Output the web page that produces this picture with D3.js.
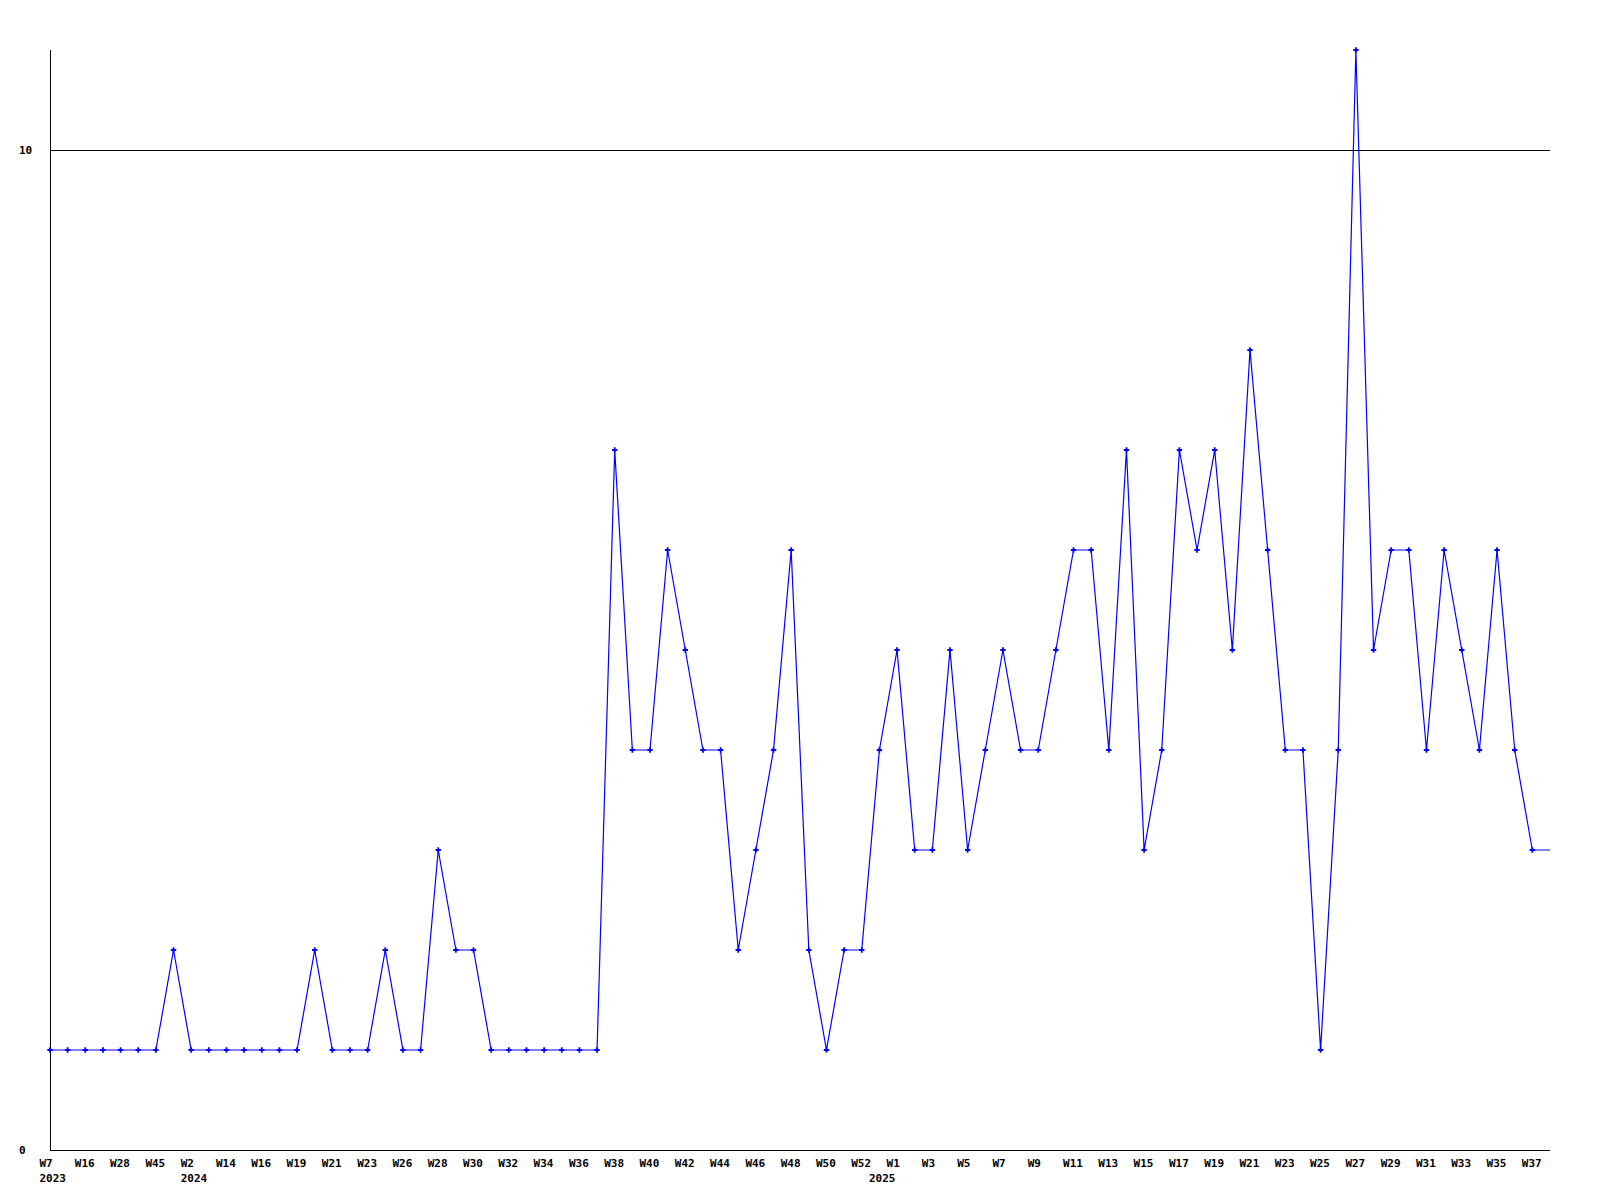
<!DOCTYPE html>
<html>
<head>
<meta charset="utf-8">
<script src="https://cdn.jsdelivr.net/npm/d3@7"></script>
<style>
  html, body { margin: 0; padding: 0; background: #ffffff; }
  svg { display: block; }
  text { font-family: "DejaVu Sans Mono", "Liberation Mono", monospace; font-weight: bold; font-size: 11px; fill: #000; }
</style>
</head>
<body>
<svg id="chart" width="1600" height="1200"></svg>
<script>
// ---- data ----
const categories = [
  "W7","W12","W16","W22","W28","W36","W45","W50",
  "W2","W9","W14","W15","W16","W17","W19","W20","W21","W22","W23","W24","W26","W27",
  "W28","W29","W30","W31","W32","W33","W34","W35","W36","W37","W38","W39","W40","W41",
  "W42","W43","W44","W45","W46","W47","W48","W49","W50","W51","W52","W1",
  "W1","W2","W3","W4","W5","W6","W7","W8","W9","W10","W11","W12","W13","W14","W15",
  "W16","W17","W18","W19","W20","W21","W22","W23","W24","W25","W26","W27","W28","W29",
  "W30","W31","W32","W33","W34","W35","W36","W37"
];
const values = [
  1,1,1,1,1,1,1,2,1,1,1,1,1,1,1,2,1,1,1,2,1,1,3,2,2,1,1,1,1,1,1,1,
  7,4,4,6,5,4,4,2,3,4,6,2,1,2,2,4,5,3,3,5,3,4,5,4,4,5,6,6,4,7,3,4,
  7,6,7,5,8,6,4,4,1,4,11,5,6,6,4,6,5,4,6,4,3
];
const yearLabels = ["2023","2024","2025"];
const yearIndex = [0, 8, 47];
const yTicks = [0, 10];

(function () {
  const svg = d3.select("#chart");
  const mLeft = 50, mRight = 1550, mTop = 50, mBottom = 1150;
  const labelShift = -10.5;

  const x = d3.scaleLinear().domain([0, values.length]).range([mLeft, mRight]);
  const y = d3.scaleLinear().domain([0, 11]).range([mBottom, mTop]);

  // gridline at 10
  svg.append("g").selectAll("line").data(yTicks.filter(d => d > 0)).join("line")
    .attr("x1", mLeft).attr("x2", mRight)
    .attr("y1", d => Math.round(y(d)) + 0.5).attr("y2", d => Math.round(y(d)) + 0.5)
    .attr("stroke", "#000").attr("stroke-width", 1).attr("shape-rendering", "crispEdges");

  // axes
  svg.append("line").attr("x1", mLeft + 0.5).attr("x2", mLeft + 0.5).attr("y1", mTop).attr("y2", mBottom)
    .attr("stroke", "#000").attr("shape-rendering", "crispEdges");
  svg.append("line").attr("x1", mLeft).attr("x2", mRight).attr("y1", mBottom + 0.5).attr("y2", mBottom + 0.5)
    .attr("stroke", "#000").attr("shape-rendering", "crispEdges");

  // y tick labels
  svg.append("g").selectAll("text").data(yTicks).join("text")
    .attr("x", 19).attr("y", d => y(d) + 4)
    .text(d => d);

  // x tick labels (every other point)
  const shown = categories.map((c, i) => ({c, i})).filter(d => d.i % 2 === 0);
  svg.append("g").selectAll("text").data(shown).join("text")
    .attr("x", d => x(d.i) + labelShift).attr("y", mBottom + 16.5)
    .text(d => d.c);

  // year labels
  svg.append("g").selectAll("text").data(yearLabels).join("text")
    .attr("x", (d, k) => x(yearIndex[k]) + labelShift).attr("y", mBottom + 32)
    .text(d => d);

  // line (last value carried to the right edge)
  const pts = values.map((v, i) => [x(i), y(v)]);
  pts.push([x(values.length), y(values[values.length - 1])]);
  svg.append("path")
    .attr("d", d3.line()(pts))
    .attr("fill", "none").attr("stroke", "#0000ff").attr("stroke-width", 1.2);

  // markers
  svg.append("g").selectAll("path").data(values).join("path")
    .attr("transform", (d, i) => `translate(${x(i)},${y(d)})`)
    .attr("d", d3.symbol().type(d3.symbolCross).size(16))
    .attr("fill", "#0000ff");
})();
</script>
</body>
</html>
